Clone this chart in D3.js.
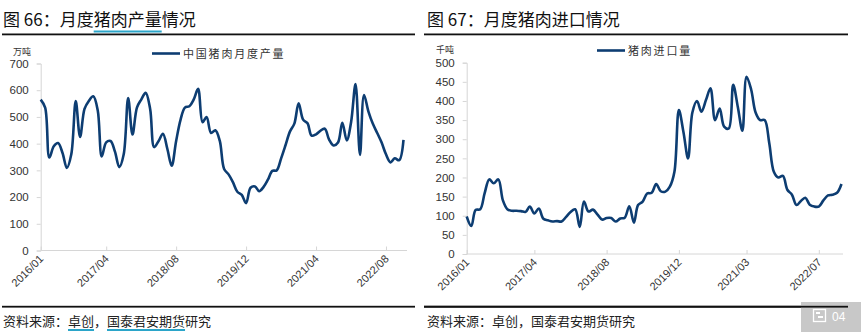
<!DOCTYPE html>
<html><head><meta charset="utf-8">
<script src="https://cdn.jsdelivr.net/npm/d3@7"></script>
<style>body{margin:0;background:#fff}svg{display:block}</style>
</head><body>
<svg id="c" width="865" height="334"></svg>
<script>
// ---------- data ----------
const startMonth = "2016/01";
const monthCount = 84;

const productionValues = [
  565,535,348,390,402,365,309,360,559,425,
  530,560,577,525,352,405,410,370,312,360,
  571,434,535,565,590,530,387,410,437,380,
  317,410,490,535,540,565,605,480,500,440,
  450,410,305,285,255,220,208,177,235,240,
  222,238,265,298,300,345,395,445,475,551,
  490,476,430,435,448,456,415,393,404,478,
  412,480,623,358,582,520,475,440,405,360,
  330,345,338,414
];
const importValues = [
  98,73,115,117,159,195,185,195,140,117,
  113,113,112,110,124,106,119,92,88,85,
  86,85,97,110,117,71,137,111,116,103,
  90,94,94,85,93,95,125,82,128,137,
  158,160,183,164,163,176,215,376,318,250,
  370,400,372,403,433,350,380,333,328,442,
  385,322,463,430,370,350,350,290,215,200,
  204,168,155,128,138,147,129,124,124,140,
  153,155,160,183
];
const productionTicks = ["2016/01","2017/04","2018/08","2019/12","2021/04","2022/08"];
const importTicks = ["2016/01","2017/04","2018/08","2019/12","2021/03","2022/07"];
const productionYTicks = [0,100,200,300,400,500,600,700];
const importYTicks = [0,50,100,150,200,250,300,350,400,450,500];

const titles = ["图 66：月度猪肉产量情况", "图 67：月度猪肉进口情况"];
const legendNames = ["中国猪肉月度产量", "猪肉进口量"];
const units = ["万吨", "千吨"];
const sourceText = "资料来源：卓创，国泰君安期货研究";

// ---------- drawing ----------
const parse = d3.timeParse("%Y/%m");
const fmt = d3.timeFormat("%Y/%m");
const months = d3.timeMonth.range(parse(startMonth), d3.timeMonth.offset(parse(startMonth), monthCount));

const svg = d3.select("#c");
const CJK = "'Noto Sans CJK SC','Noto Sans',sans-serif";
const NUM = "'Liberation Sans',Arial,sans-serif";
const LINE = "#0d3d72";
const TEAL = "#2ba5c9";
const AXIS = "#d6d6d6";

function underline(textSel, start, len, y) {
  const node = textSel.node();
  const x0 = +textSel.attr("x");
  const pre = start > 0 ? node.getSubStringLength(0, start) : 0;
  const w = node.getSubStringLength(start, len);
  svg.append("rect").attr("x", x0 + pre).attr("y", y).attr("width", w).attr("height", 2).attr("fill", TEAL);
}

function drawPanel(cfg) {
  // title
  const t = svg.append("text").attr("x", cfg.titleX).attr("y", 26)
    .attr("font-family", CJK).attr("font-size", 17).attr("fill", "#111")
    .text(cfg.title);
  if (cfg.titleUnderline) underline(t, 7, 4, 30.5);
  // rules
  svg.append("rect").attr("x", cfg.ruleX0).attr("y", 33.5).attr("width", cfg.ruleX1 - cfg.ruleX0).attr("height", 1.8).attr("fill", "#111");
  svg.append("rect").attr("x", cfg.ruleX0).attr("y", 305.8).attr("width", cfg.ruleX1 - cfg.ruleX0).attr("height", 1.8).attr("fill", "#111");
  // source
  const s = svg.append("text").attr("x", cfg.titleX).attr("y", 326)
    .attr("font-family", CJK).attr("font-size", 13).attr("fill", "#222")
    .text(sourceText);
  if (cfg.sourceUnderline) { underline(s, 5, 2, 329); underline(s, 8, 6, 329); }

  const x = d3.scaleTime().domain([months[0], months[months.length - 1]]).range([cfg.x0, cfg.x1]);
  const y = d3.scaleLinear().domain([0, cfg.yMax]).range([cfg.yBottom, cfg.yTop]);

  // y axis
  const ya = svg.append("g").attr("transform", `translate(${cfg.x0},0)`)
    .call(d3.axisLeft(y).tickValues(cfg.yTicks).tickSize(4).tickPadding(8));
  ya.select(".domain").attr("stroke", AXIS);
  ya.selectAll(".tick line").attr("stroke", AXIS);
  ya.selectAll(".tick text").attr("font-family", NUM).attr("font-size", 11.5).attr("fill", "#333");

  // x axis
  const xa = svg.append("g").attr("transform", `translate(0,${cfg.yBottom})`)
    .call(d3.axisBottom(x).tickValues(cfg.xTicks.map(parse)).tickFormat(fmt).tickSizeInner(-4).tickSizeOuter(0));
  xa.select(".domain").attr("stroke", AXIS).attr("d", `M${cfg.x0},0H${cfg.axisEnd}`);
  xa.selectAll(".tick line").attr("stroke", AXIS);
  xa.selectAll(".tick text").attr("font-family", NUM).attr("font-size", 11).attr("fill", "#333")
    .attr("text-anchor", "end").attr("dy", 0).attr("y", 0)
    .attr("transform", "translate(3,9) rotate(-45)");

  // unit
  svg.append("text").attr("x", cfg.unitX).attr("y", cfg.unitY)
    .attr("font-family", CJK).attr("font-size", 9).attr("fill", "#333").text(cfg.unit);

  // legend
  svg.append("line").attr("x1", cfg.legX).attr("x2", cfg.legX + 28).attr("y1", cfg.legY).attr("y2", cfg.legY)
    .attr("stroke", LINE).attr("stroke-width", 2.6);
  svg.append("text").attr("x", cfg.legX + 31).attr("y", cfg.legY + 4)
    .attr("font-family", CJK).attr("font-size", 11).attr("letter-spacing", 1.8).attr("fill", "#333").text(cfg.legend);

  // line
  const line = d3.line().x((d, i) => x(months[i])).y(d => y(d)).curve(d3.curveCatmullRom.alpha(0.5));
  svg.append("path").datum(cfg.values).attr("d", line)
    .attr("fill", "none").attr("stroke", LINE).attr("stroke-width", 2.6).attr("stroke-linejoin", "round");
}

drawPanel({
  title: titles[0], titleX: 3, titleUnderline: true, sourceUnderline: true,
  ruleX0: 2, ruleX1: 415,
  x0: 40.7, x1: 403.5, axisEnd: 407, yTop: 63.5, yBottom: 250.5, yMax: 700,
  yTicks: productionYTicks, xTicks: productionTicks, values: productionValues,
  unit: units[0], unitX: 13, unitY: 55, legend: legendNames[0], legX: 152, legY: 53.5
});
drawPanel({
  title: titles[1], titleX: 427, titleUnderline: false, sourceUnderline: false,
  ruleX0: 424, ruleX1: 848,
  x0: 466.7, x1: 841.5, axisEnd: 843, yTop: 62.7, yBottom: 254, yMax: 500,
  yTicks: importYTicks, xTicks: importTicks, values: importValues,
  unit: units[1], unitX: 436, unitY: 53, legend: legendNames[1], legX: 597, legY: 50.5
});

// page tag
svg.append("rect").attr("x", 801).attr("y", 302).attr("width", 60).attr("height", 30).attr("fill", "#c8c8c8");
svg.append("rect").attr("x", 424).attr("y", 305.8).attr("width", 424).attr("height", 1.8).attr("fill", "#111");
svg.append("rect").attr("x", 813.5).attr("y", 309.5).attr("width", 12).attr("height", 12).attr("fill", "none").attr("stroke", "#fff").attr("stroke-width", 1.3);
svg.append("rect").attr("x", 816).attr("y", 312).attr("width", 4).attr("height", 2).attr("fill", "#fff");
svg.append("rect").attr("x", 818).attr("y", 316).attr("width", 5).attr("height", 2).attr("fill", "#fff");
svg.append("text").attr("x", 832).attr("y", 321).attr("font-family", NUM).attr("font-size", 12).attr("fill", "#fff").text("04");
</script>
</body></html>
